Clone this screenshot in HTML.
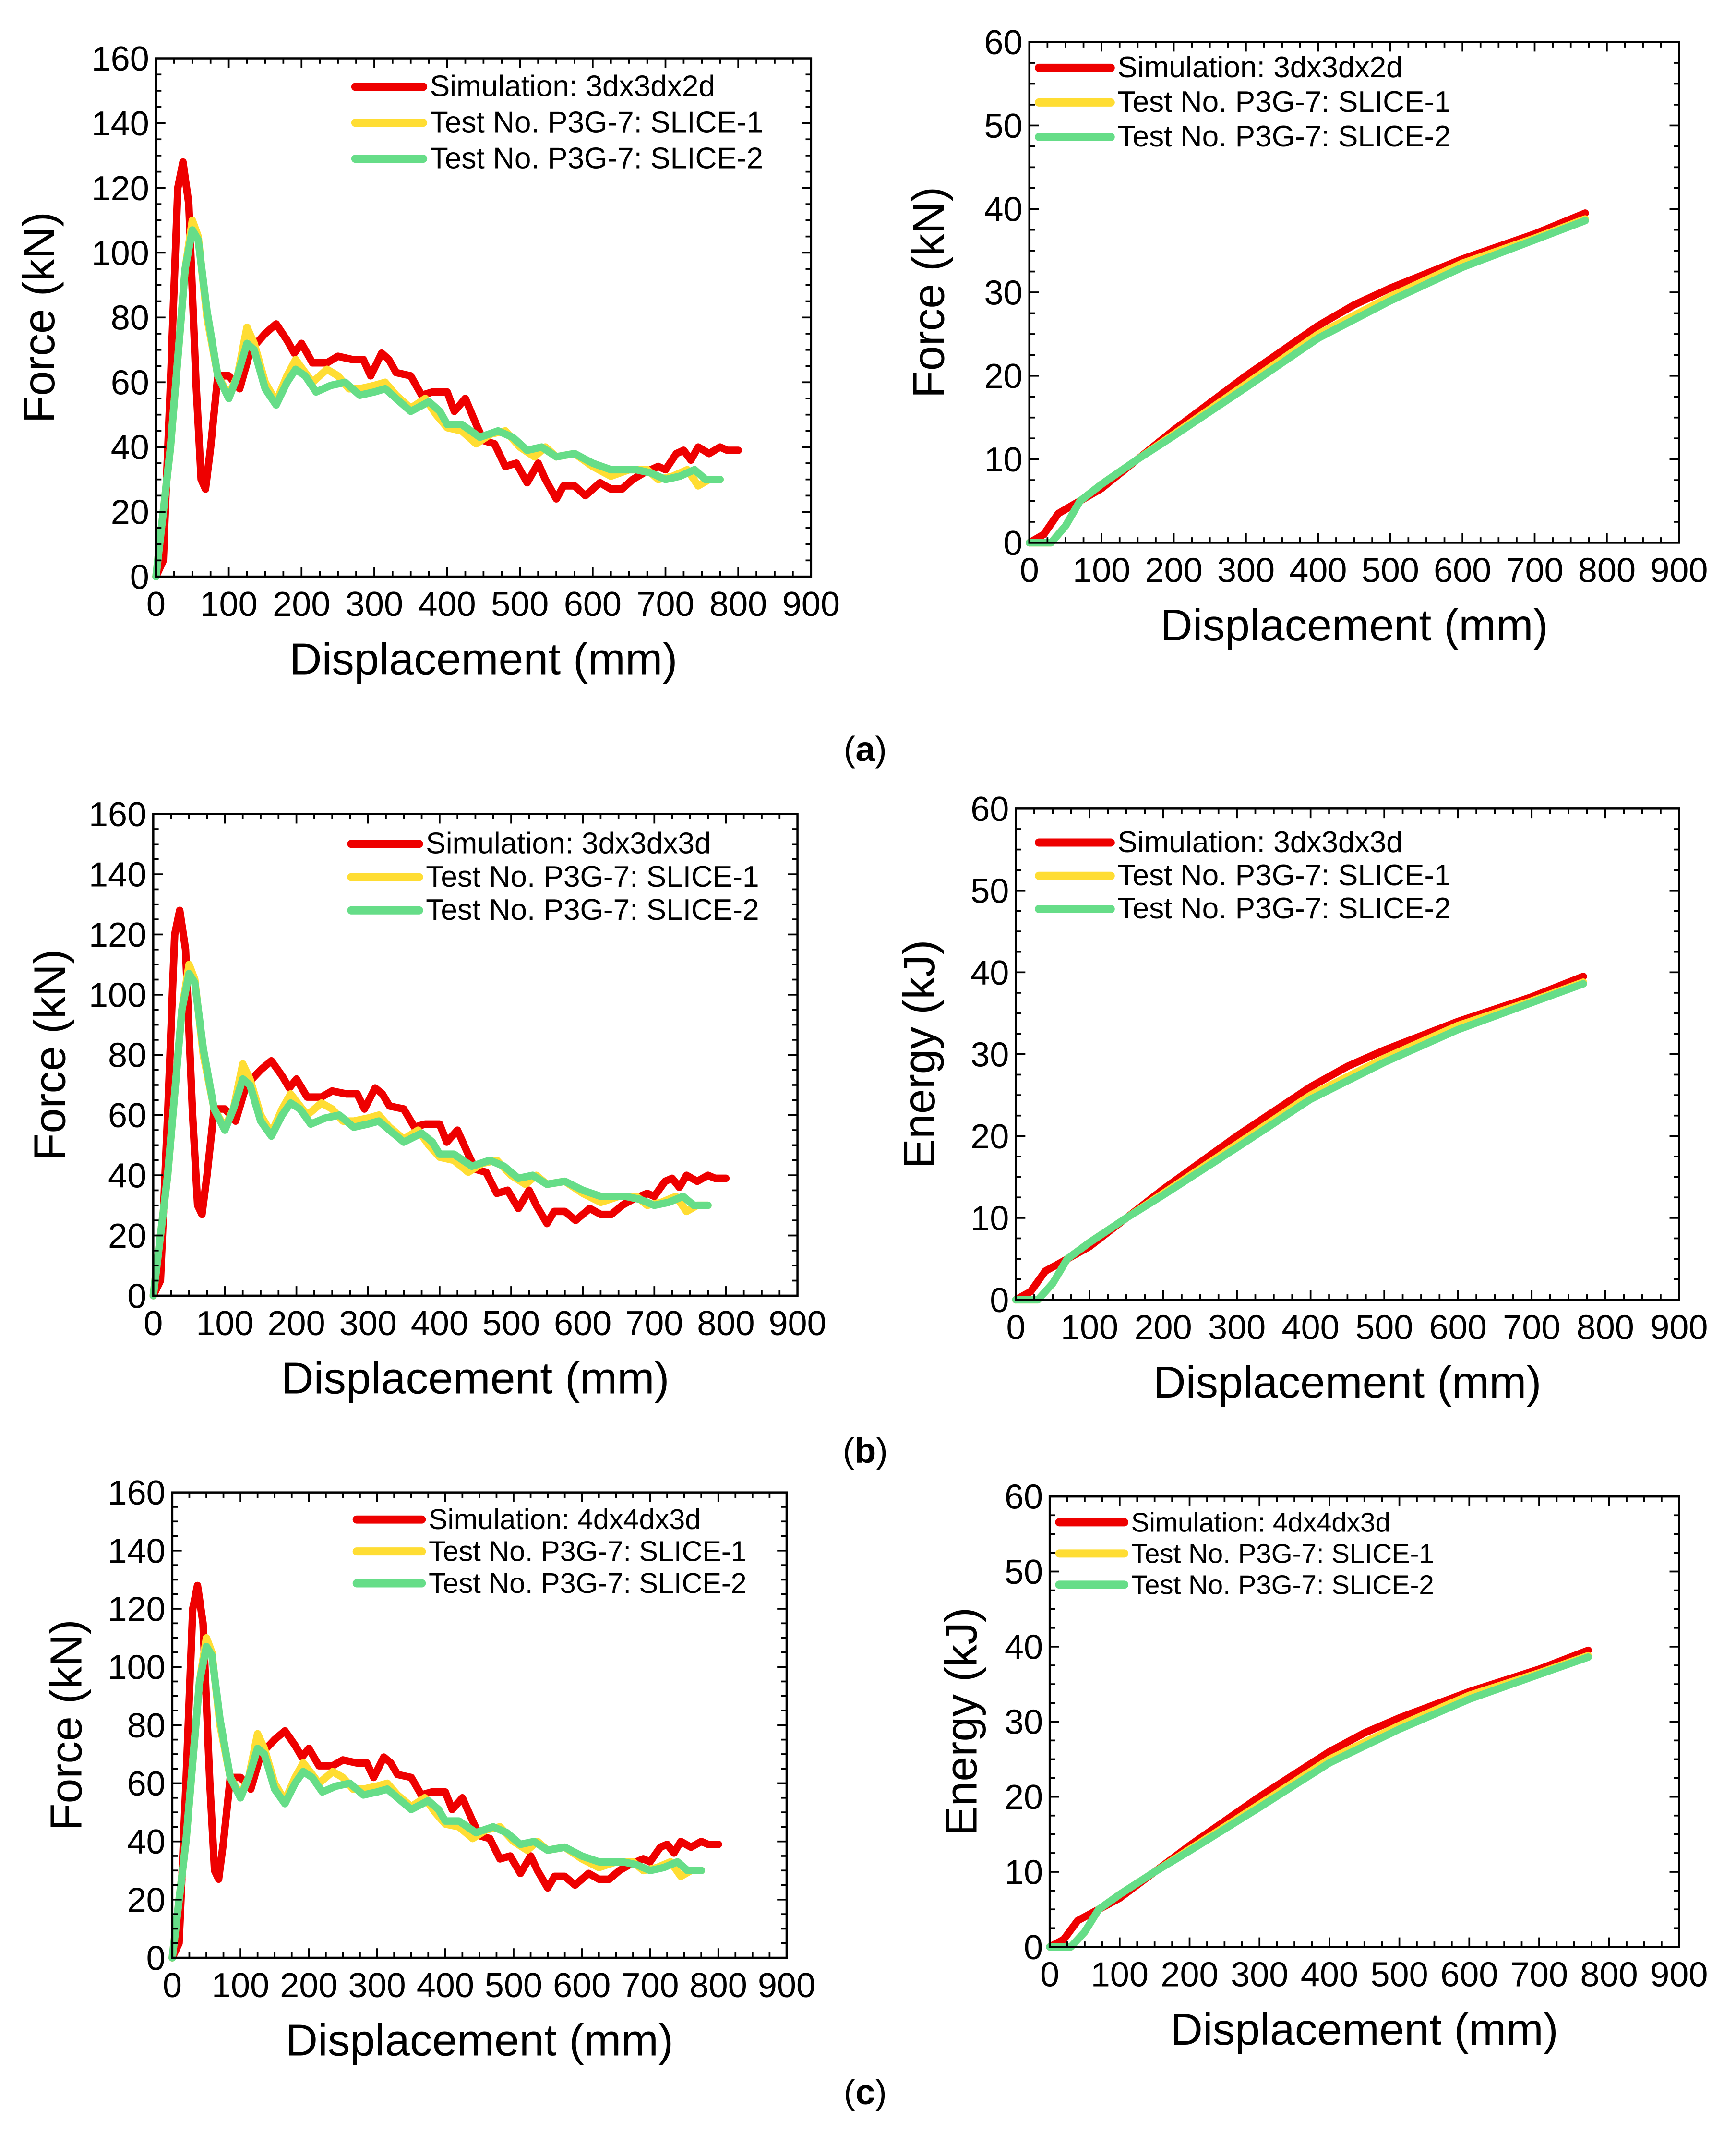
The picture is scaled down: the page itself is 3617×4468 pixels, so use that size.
<!DOCTYPE html>
<html><head><meta charset="utf-8">
<style>
html,body{margin:0;padding:0;background:#fff;}
svg{display:block;}
text{font-family:"Liberation Sans",sans-serif;}
</style></head>
<body>
<svg id="fig" xmlns="http://www.w3.org/2000/svg" width="3617" height="4468" viewBox="0 0 1280 1581" preserveAspectRatio="none">
<rect width="1280" height="1581" fill="#fff"/>
<text x="638" y="561" text-anchor="middle" font-family="Liberation Serif" font-size="26">(<tspan font-weight="bold">a</tspan>)</text>
<text x="638" y="1078" text-anchor="middle" font-family="Liberation Serif" font-size="26">(<tspan font-weight="bold">b</tspan>)</text>
<text x="638" y="1551" text-anchor="middle" font-family="Liberation Serif" font-size="26">(<tspan font-weight="bold">c</tspan>)</text>
</svg>
<script>
// Force data (displacement mm, force kN)
const forceSimX = [0,10,20,30,37,45,55,62,68,75,85,100,115,130,150,165,180,190,200,215,235,250,270,285,295,310,320,330,350,365,380,400,410,425,440,450,465,480,495,510,525,535,550,560,575,590,610,625,640,655,670,690,700,715,725,735,745,760,775,785,800];
const forceSimY = [0,5,60,120,128,115,60,30,27,40,62,62,58,70,75,78,73,69,72,66,66,68,67,67,62,69,67,63,62,56,57,57,51,55,47,42,41,34,35,29,35,30,24,28,28,25,29,27,27,30,32,34,33,38,39,36,40,38,40,39,39];
const forceS1X = [0,20,40,50,58,70,85,100,112,125,135,150,165,180,192,205,215,235,250,265,280,300,315,330,350,370,385,400,420,440,460,480,500,520,535,550,575,600,625,650,675,690,710,730,745,760,775];
const forceS1Y = [0,40,95,110,105,80,62,56,62,77,72,60,54,62,67,63,60,64,62,58,58,59,60,56,52,55,50,46,45,41,44,45,40,37,40,37,38,34,31,33,33,30,31,33,28,30,30];
const forceS2X = [0,20,40,50,58,70,85,100,112,125,135,150,165,180,192,205,220,240,260,280,300,315,330,350,375,390,400,420,445,470,490,510,530,550,575,600,625,660,680,700,720,740,755,775];
const forceS2Y = [0,40,95,107,104,82,62,55,62,72,70,58,53,60,64,62,57,59,60,56,57,58,55,51,54,51,47,47,43,45,43,39,40,37,38,35,33,33,32,30,31,33,30,30];
// Energy data (displacement mm, energy kJ)
const energySimX = [0,20,40,60,80,100,150,200,300,400,450,500,600,700,770];
const energySimY = [0,1,3.5,4.5,5.5,6.5,10,13.5,20,26,28.5,30.5,34,37,39.5];
const energyS1X = [0,30,50,70,100,150,200,300,400,500,600,700,770];
const energyS1Y = [0,0,2,5,7,10,13,19,25,29.5,33.5,36.5,38.8];
const energyS2X = [0,30,50,70,100,150,200,300,400,500,600,700,770];
const energyS2Y = [0,0,2,5,7,10,12.8,18.6,24.5,29,33,36.3,38.6];
const xTicks = [0,100,200,300,400,500,600,700,800,900];
const forceTicks = [0,20,40,60,80,100,120,140,160];
const energyTicks = [0,10,20,30,40,50,60];
const legendForceA = ["Simulation: 3dx3dx2d","Test No. P3G-7: SLICE-1","Test No. P3G-7: SLICE-2"];
const legendB = ["Simulation: 3dx3dx3d","Test No. P3G-7: SLICE-1","Test No. P3G-7: SLICE-2"];
const legendC = ["Simulation: 4dx4dx3d","Test No. P3G-7: SLICE-1","Test No. P3G-7: SLICE-2"];
const colors = ["#ee0000","#ffdd33","#66dd88"];

const NS="http://www.w3.org/2000/svg";
const svg=document.getElementById('fig');
function mk(tag,attrs,parent){const e=document.createElementNS(NS,tag);for(const k in attrs)e.setAttribute(k,attrs[k]);(parent||svg).appendChild(e);return e;}

function panel(o){
  const g=mk('g',{});
  
  
  const {x0,x1,y0,y1,ymax,yTicks,yMinor}=o;
  const sx=v=>x0+(v/900)*(x1-x0);
  const sy=v=>y1-(v/ymax)*(y1-y0);
  const series=[[o.sx[0],o.sy[0]],[o.sx[1],o.sy[1]],[o.sx[2],o.sy[2]]];
  [0,1,2].forEach(i=>{
    const [X,Y]=series[i];
    let d='';X.forEach((v,j)=>{d+=(j?'L':'M')+sx(v).toFixed(1)+' '+sy(Y[j]).toFixed(1);});
    const p=mk('path',{d:d,fill:'none',stroke:colors[i],'stroke-width':5.5,'stroke-linejoin':'round','stroke-linecap':'round'},g);
    
    
  });
  const fr=mk('rect',{x:x0,y:y0,width:x1-x0,height:y1-y0,fill:'none',stroke:'#000','stroke-width':1.6},g);
  
  
  for(let v=0;v<=900;v+=25){
    const L=(v%100===0)?7:4;const x=sx(v);
    mk('line',{x1:x,y1:y1,x2:x,y2:y1-L,stroke:'#000','stroke-width':1.3},g);
    mk('line',{x1:x,y1:y0,x2:x,y2:y0+L,stroke:'#000','stroke-width':1.3},g);
  }
  const step=yTicks[1]-yTicks[0];
  for(let v=0;v<=ymax+1e-9;v+=yMinor){
    const major=Math.abs(v/step-Math.round(v/step))<1e-6;const L=major?7:4;const y=sy(v);
    mk('line',{x1:x0,y1:y,x2:x0+L,y2:y,stroke:'#000','stroke-width':1.3},g);
    mk('line',{x1:x1,y1:y,x2:x1-L,y2:y,stroke:'#000','stroke-width':1.3},g);
  }
  xTicks.forEach(v=>{
    const t=mk('text',{x:sx(v),y:y1+29,'text-anchor':'middle','font-size':25.5},g);t.textContent=v;
    
    
  });
  yTicks.forEach(v=>{
    const t=mk('text',{x:x0-5,y:sy(v)+9,'text-anchor':'end','font-size':25.5},g);t.textContent=v;
    
    
  });
  const xt=mk('text',{x:(x0+x1)/2,y:y1+72,'text-anchor':'middle','font-size':33},g);xt.textContent='Displacement (mm)';
  
  
  const yc=(y0+y1)/2;
  const yt=mk('text',{x:0,y:0,'text-anchor':'middle','font-size':33,transform:`translate(${o.ytx},${yc}) rotate(-90)`},g);yt.textContent=o.ytitle;
  
  
  o.legend.forEach((s,i)=>{
    const y=o.ly+i*o.lg;
    const ln=mk('line',{x1:o.lx,y1:y,x2:o.lx+o.ll,y2:y,stroke:colors[i],'stroke-width':6,'stroke-linecap':'round'},g);
    
    
    const t=mk('text',{x:o.lx+o.ll+5,y:y+7,'font-size':o.lf},g);t.textContent=s;
    
    
  });
}
const F=[forceSimX,forceSimY,forceS1X,forceS1Y,forceS2X,forceS2Y];
const E=[energySimX,energySimY,energyS1X,energyS1Y,energyS2X,energyS2Y];
function fp(name,x0,x1,y0,y1,ytx,lx,ly,lg,ll,lf,legend,isE,yt){
  const D=isE?E:F;
  panel({name,x0,x1,y0,y1,ymax:isE?60:160,yTicks:isE?energyTicks:forceTicks,yMinor:isE?2.5:5,
    sx:[D[0],D[2],D[4]],sy:[D[1],D[3],D[5]],ytx,ytitle:yt,lx,ly,lg,ll,lf,legend});
}
fp('panel-a-force',115,598,43,425,40,262,64,26.5,50,22,legendForceA,false,'Force (kN)');
fp('panel-a-right',759,1238,31,400,696,766,50,25.5,53,22,legendForceA,true,'Force (kN)');
fp('panel-b-force',113,588,600,955,48,259,622,24.5,50,22,legendB,false,'Force (kN)');
fp('panel-b-energy',749,1238,596,958,689,766,621,24.5,53,22,legendB,true,'Energy (kJ)');
fp('panel-c-force',127,580,1100,1443,60,263,1120,23.5,48,21,legendC,false,'Force (kN)');
fp('panel-c-energy',774,1238,1103,1435,720,781,1122,23,48,20,legendC,true,'Energy (kJ)');
</script>
</body></html>
